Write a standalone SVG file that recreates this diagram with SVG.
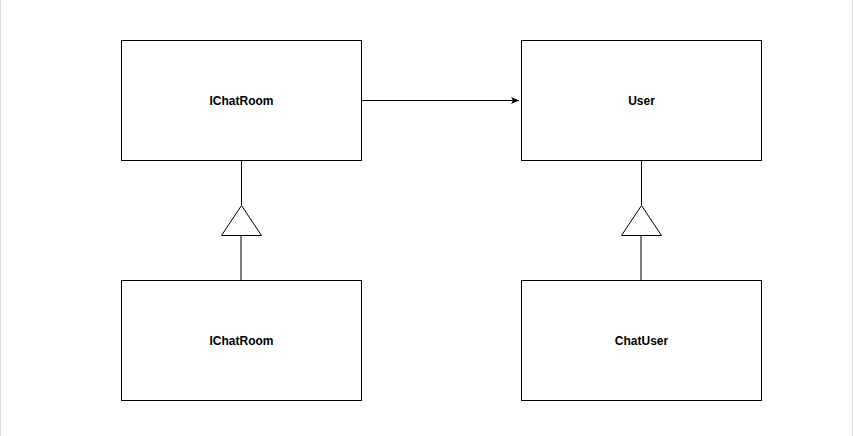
<svg xmlns="http://www.w3.org/2000/svg" width="853" height="436" viewBox="0 0 853 436">
<style>
.box{fill:#fff;stroke:#000;stroke-width:1}
.lbl{font-family:"Liberation Sans",Arial,sans-serif;font-size:12px;font-weight:bold;fill:#000;text-anchor:middle;dominant-baseline:central}
.edge{fill:none;stroke:#000;stroke-width:1}
.tri{fill:#fff;stroke:#000;stroke-width:1}
</style>
<defs>
<marker id="arr" markerWidth="10" markerHeight="10" refX="8" refY="3.5" orient="auto" markerUnits="userSpaceOnUse">
<path d="M0,0 L8,3.5 L0,7 L2,3.5 Z" fill="#000"/>
</marker>
</defs>
<rect x="0" y="0" width="853" height="436" fill="#fff"/>
<line x1="0.5" y1="0" x2="0.5" y2="436" stroke="#ddd"/>
<line x1="852.5" y1="0" x2="852.5" y2="436" stroke="#ddd"/>
<g id="connectors">
<path class="edge" d="M361.5,100.5 L519,100.5" marker-end="url(#arr)"/>
<path class="edge" d="M241.5,160.5 L241.5,205.5"/>
<path class="edge" d="M241,235.5 L241,280.5"/>
<path class="tri" d="M241.5,205.5 L261.5,235.5 L221.5,235.5 Z"/>
<path class="edge" d="M641.5,160.5 L641.5,205.5"/>
<path class="edge" d="M641,235.5 L641,280.5"/>
<path class="tri" d="M641.5,205.5 L661.5,235.5 L621.5,235.5 Z"/>
</g>
<g id="node-ichatroom-top">
<rect class="box" x="121.5" y="40.5" width="240" height="120"/>
<text class="lbl" x="241.5" y="100.5">IChatRoom</text>
</g>
<g id="node-user">
<rect class="box" x="521.5" y="40.5" width="240" height="120"/>
<text class="lbl" x="641.5" y="100.5">User</text>
</g>
<g id="node-ichatroom-bottom">
<rect class="box" x="121.5" y="280.5" width="240" height="120"/>
<text class="lbl" x="241.5" y="340.5">IChatRoom</text>
</g>
<g id="node-chatuser">
<rect class="box" x="521.5" y="280.5" width="240" height="120"/>
<text class="lbl" x="641.5" y="340.5">ChatUser</text>
</g>
</svg>
